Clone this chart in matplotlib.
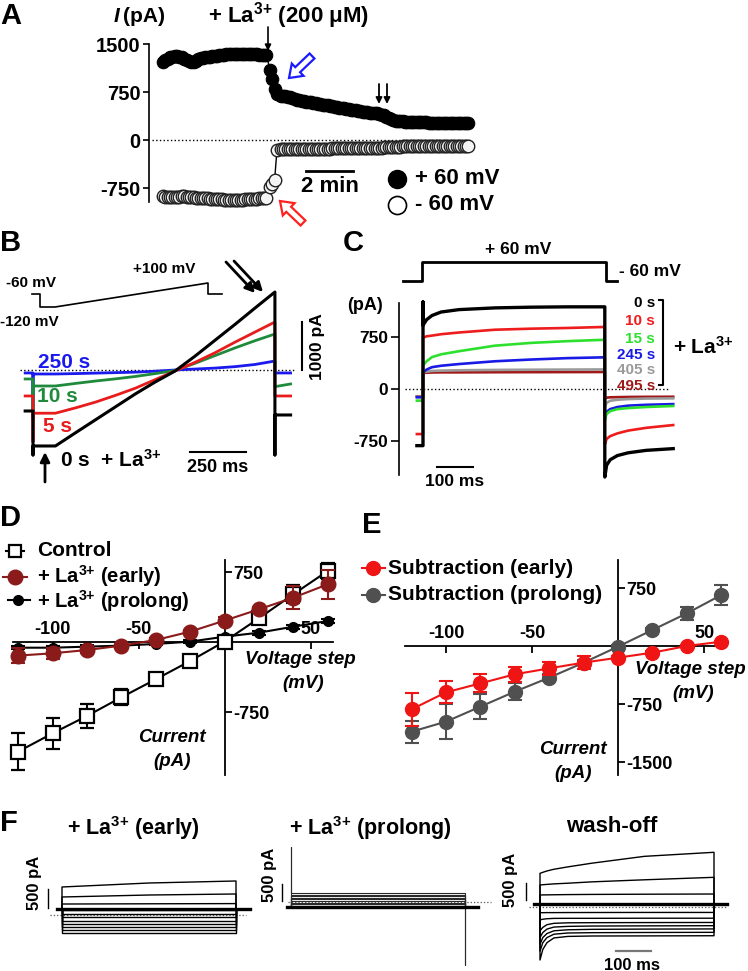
import matplotlib
matplotlib.use('Agg')
import matplotlib.pyplot as plt
from matplotlib import font_manager
from matplotlib.patches import FancyArrow

names = {f.name for f in font_manager.fontManager.ttflist}
BASE = 'Liberation Sans' if 'Liberation Sans' in names else 'DejaVu Sans'
plt.rcParams.update({
    'font.family': [BASE, 'DejaVu Sans'],
    'font.weight': 'bold',
    'axes.unicode_minus': False,
    'mathtext.fontset': 'custom',
    'mathtext.rm': BASE + ':bold',
    'mathtext.it': BASE + ':italic:bold',
    'mathtext.bf': BASE + ':bold',
    'mathtext.default': 'rm',
})
LA = r'La$^{3{+}}$'

# ---------------- DATA ----------------
# Panel A: time course (min) of current at +60 / -60 mV
a_time = [0.0, 0.1, 0.2, 0.3, 0.4, 0.5, 0.6, 0.7, 0.8, 0.9,
          1.0, 1.1, 1.2, 1.3, 1.4, 1.5, 1.6, 1.7, 1.8, 1.9,
          2.0, 2.1, 2.2, 2.3, 2.4, 2.5, 2.6, 2.7, 2.8, 2.9,
          3.0, 3.1, 3.2, 3.3, 3.4, 3.5, 3.6, 3.7, 3.8, 3.9,
          4.0, 4.1, 4.2, 4.3, 4.4, 4.55, 4.65, 4.75, 4.85,
          5.0, 5.1, 5.2, 5.3, 5.4, 5.5, 5.6, 5.7, 5.8, 5.9,
          6.0, 6.1, 6.2, 6.3, 6.4, 6.5, 6.6, 6.7, 6.8, 6.9,
          7.0, 7.1, 7.2, 7.3, 7.4, 7.5, 7.6, 7.7, 7.8, 7.9,
          8.0, 8.1, 8.2, 8.3, 8.4, 8.5, 8.6, 8.7, 8.8, 8.9,
          9.0, 9.1, 9.2, 9.3, 9.4, 9.5, 9.6, 9.7, 9.8, 9.9,
          10.0, 10.1, 10.2, 10.3, 10.4, 10.5, 10.6, 10.7, 10.8, 10.9,
          11.0, 11.1, 11.2, 11.3, 11.4, 11.5, 11.6, 11.7, 11.8, 11.9,
          12.0, 12.1, 12.2, 12.3, 12.4, 12.5, 12.6, 12.7, 12.8, 12.9, 13.0]
a_pos60 = [1220, 1250, 1270, 1290, 1300, 1305, 1305, 1300, 1290, 1270,
           1250, 1230, 1215, 1225, 1240, 1260, 1275, 1285, 1290, 1295,
           1300, 1308, 1315, 1320, 1325, 1330, 1335, 1338, 1340, 1343,
           1345, 1345, 1345, 1344, 1342, 1341, 1340, 1339, 1338, 1337,
           1336, 1335, 1334, 1332, 1330, 1100, 960, 800, 720,
           695, 688, 680, 672, 665, 652, 640, 629, 618, 611,
           605, 598, 592, 586, 580, 573, 567, 560, 553, 547,
           540, 532, 525, 518, 512, 506, 500, 494, 488, 481,
           475, 468, 462, 456, 450, 443, 437, 432, 428, 424,
           420, 415, 410, 398, 385, 365, 345, 327, 310, 303,
           298, 295, 292, 289, 287, 285, 283, 281, 279, 277,
           276, 275, 274, 273, 272, 271, 271, 270, 270, 269,
           269, 268, 268, 267, 267, 266, 266, 265, 265, 264, 264]
a_neg60 = [-880, -883, -885, -888, -890, -888, -885, -883, -880, -882,
           -885, -890, -895, -898, -900, -903, -905, -908, -910, -913,
           -915, -918, -920, -923, -925, -928, -930, -933, -935, -935,
           -935, -933, -930, -930, -930, -928, -925, -923, -920, -918,
           -915, -913, -910, -905, -900, -740, -690, -625, -150,
           -145, -144, -143, -142, -141, -141, -140, -140, -139, -139,
           -138, -138, -137, -137, -136, -136, -135, -135, -134, -134,
           -133, -133, -132, -132, -131, -131, -130, -130, -129, -129,
           -128, -128, -127, -127, -126, -126, -125, -125, -124, -124,
           -123, -122, -120, -118, -115, -113, -110, -108, -106, -104,
           -103, -102, -101, -100, -99, -99, -98, -98, -97, -97,
           -96, -96, -95, -95, -94, -94, -93, -93, -92, -92,
           -91, -91, -90, -90, -90, -89, -89, -89, -89, -88, -88]
a_yticks = [-750, 0, 750, 1500]

# Panel B: ramp currents (pA) at ramp voltages (mV)
b_volt = [-120, -100, -80, -60, -40, -20, 0, 20, 40, 60, 80, 100]
b_labels = ['0 s', '5 s', '10 s', '250 s']
b_colors = ['black', '#e81c1c', '#1f8a3c', '#1a1aee']
b_0s = [-1583, -1310, -1040, -770, -500, -250, -20, 290, 620, 950, 1290, 1625]
b_5s = [-900, -790, -670, -530, -380, -200, -20, 160, 360, 580, 790, 1000]
b_10s = [-333, -280, -230, -185, -135, -75, -10, 140, 300, 460, 610, 750]
b_250s = [-83, -75, -65, -55, -45, -25, 0, 20, 40, 70, 115, 187]
b_hold = [-854, -541, -187, -62]
b_spike_on = [-1770, -1493, -1000, -1020]
b_spike_off = [-1770, -541, -347, -62]
b_tail_start = [-937, -541, -347, -62]
b_tail_end = [-937, -541, -291, -62]

# Panel C: step currents (pA)
c_step_t = [0, 10, 25, 50, 100, 200, 300, 400, 505]
c_tail_t = [505, 510, 520, 540, 570, 620, 695]
c_labels = ['0 s', '10 s', '15 s', '245 s', '405 s', '495 s']
c_colors = ['black', '#ee1c1c', '#2ee02e', '#1a1ae6', '#9a9a9a', '#a01818']
c_pre = [-817, -650, -168, -120, -110, -105]
c_step = [[920, 1000, 1060, 1110, 1145, 1170, 1180, 1185, 1185],
          [740, 760, 770, 790, 815, 855, 870, 880, 895],
          [340, 400, 460, 500, 545, 625, 665, 690, 710],
          [240, 280, 315, 335, 360, 400, 425, 445, 457],
          [240, 250, 260, 265, 270, 275, 278, 280, 282],
          [230, 235, 238, 240, 240, 242, 243, 244, 245]]
c_tail = [[-1270, -1100, -1020, -960, -920, -885, -860],
          [-800, -720, -680, -640, -600, -560, -520],
          [-450, -360, -320, -290, -275, -260, -245],
          [-380, -330, -290, -260, -240, -228, -218],
          [-250, -200, -170, -155, -145, -138, -135],
          [-140, -125, -120, -118, -115, -113, -112]]
c_black_peak = 1255
c_yticks = [-750, 0, 750]

# Panel D: I-V curves
d_volt = [-120, -100, -80, -60, -40, -20, 0, 20, 40, 60]
d_control = [-1175, -979, -793, -593, -400, -204, 5, 254, 511, 761]
d_control_err = [196, 166, 130, 86, 30, 25, 20, 40, 98, 87]
d_early = [-146, -121, -86, -39, 21, 111, 229, 350, 475, 618]
d_early_err = [82, 60, 30, 20, 20, 20, 40, 20, 125, 157]
d_prolong = [-61, -61, -50, -39, -21, 4, 57, 100, 164, 225]
d_prolong_err = [15, 15, 15, 15, 15, 15, 15, 20, 20, 25]
d_xticks = [-100, -50, 50]
d_yticks = [-750, 750]

# Panel E: subtraction currents
e_volt = [-120, -100, -80, -60, -40, -20, 0, 20, 40, 60]
e_early = [-819, -599, -483, -366, -289, -215, -151, -86, 0, 56]
e_early_err = [211, 142, 118, 99, 86, 80, 20, 20, 15, 15]
e_prolong = [-1108, -978, -784, -590, -409, -216, -8, 207, 422, 659]
e_prolong_err = [140, 226, 161, 108, 50, 30, 20, 30, 80, 129]
e_xticks = [-100, -50, 50]
e_yticks = [-1500, -750, 750]

# Panel F: families of step currents (pA)
f_early_t = [0, 250, 500]
f_early = [[737, 842, 895], [474, 526, 553], [289, 295, 300], [132, 132, 132],
           [26, 26, 26], [-53, -53, -53], [-158, -158, -158], [-237, -237, -237],
           [-316, -316, -316], [-395, -395, -395], [-474, -474, -474]]
f_early_hold = 158
f_prol_t = [0, 500]
f_prol_levels = [265, 210, 165, 120, 75, 30, -15, -60, -105, -147, -176]
f_prol_hold = -147
f_prol_spike = [1618, -1853]
f_wash_t = [0, 8, 20, 40, 80, 150, 300, 500]
f_wash = [[990, 1020, 1060, 1110, 1180, 1290, 1490, 1609],
          [647, 655, 665, 680, 700, 740, 800, 873],
          [353, 355, 357, 360, 365, 370, 376, 382],
          [-167, -167, -165, -165, -163, -162, -160, -160],
          [-380, -360, -345, -335, -333, -333, -330, -330],
          [-700, -600, -520, -480, -465, -461, -458, -455],
          [-900, -750, -650, -590, -570, -560, -555, -550],
          [-1100, -900, -780, -700, -670, -657, -650, -645],
          [-1300, -1050, -900, -800, -765, -755, -750, -745],
          [-1559, -1250, -1050, -910, -865, -853, -850, -845]]
f_wash_hold = 78

# ---------------- FIGURE ----------------
W, H = 748, 971
fig = plt.figure(figsize=(W / 100, H / 100), dpi=100)


def map_axes(box, ox, oy, sx, sy):
    x0, x1, y0, y1 = box
    ax = fig.add_axes([x0 / W, 1 - y1 / H, (x1 - x0) / W, (y1 - y0) / H])
    ax.set_xlim((x0 - ox) / sx, (x1 - ox) / sx)
    ax.set_ylim((oy - y1) / sy, (oy - y0) / sy)
    ax.patch.set_visible(False)
    return ax


ov = fig.add_axes([0, 0, 1, 1], zorder=10)
ov.set_xlim(0, W)
ov.set_ylim(H, 0)
ov.axis('off')
ov.patch.set_visible(False)


def T(x, y, s, size=14, ha='left', va='center', **kw):
    ov.text(x, y, s, fontsize=size, ha=ha, va=va, fontweight='bold', **kw)


def arrow(x0, y0, x1, y1, lw=1.2, ms=10):
    ov.annotate('', xy=(x1, y1), xytext=(x0, y0),
                arrowprops=dict(arrowstyle='-|>', color='k', lw=lw,
                                mutation_scale=ms, shrinkA=0, shrinkB=0))


# ---- Panel A ----
axA = map_axes((135, 485, 38, 212), 163, 140, 23.5, 48 / 750)
for s in ['top', 'right', 'bottom']:
    axA.spines[s].set_visible(False)
axA.spines['left'].set_position(('data', (149 - 163) / 23.5))
axA.spines['left'].set_bounds(-970, 1500)
axA.spines['left'].set_linewidth(1.2)
axA.set_xticks([])
axA.set_yticks(a_yticks)
axA.tick_params(axis='y', length=4, width=1.2, labelsize=14.5, pad=2)
axA.plot([-0.47, 13.06], [0, 0], ':', color='k', lw=1)
axA.plot(a_time, a_pos60, '-', color='k', lw=1)
axA.plot(a_time, a_pos60, 'o', ls='none', ms=9, mfc='k', mec='k', mew=0.8)
axA.plot(a_time, a_neg60, '-', color='k', lw=1)
axA.plot(a_time, a_neg60, 'o', ls='none', ms=9, mfc='#f4f4f4', mec='#222222', mew=1.0)
axA.plot([6.1, 8.1], [-484, -484], 'k-', lw=2)

T(0, 16, 'A', size=21)
T(114, 16, 'I', size=15, style='italic')
T(123, 16, '(pA)', size=15)
T(289, 16, '+ ' + LA + ' (200 μM)', size=16, ha='center')
arrow(268, 27, 268, 51, lw=1.2, ms=9)
arrow(379, 84, 379, 104, lw=1.3, ms=9)
arrow(387, 84, 387, 104, lw=1.3, ms=9)
ov.add_patch(FancyArrow(312, 56, -23, 22, width=7, head_width=17, head_length=12,
                        length_includes_head=True, fc='white', ec='#1a1aff', lw=1.6))
ov.add_patch(FancyArrow(303, 223, -23, -22, width=7, head_width=17, head_length=12,
                        length_includes_head=True, fc='white', ec='#ff2020', lw=1.6))
T(330, 186, '2 min', size=16, ha='center')
ov.plot([397], [179], 'o', ms=13, mfc='k', mec='k')
ov.plot([397], [205], 'o', ms=13, mfc='white', mec='k', mew=1.2)
T(415, 179, '+ 60 mV', size=16)
T(415, 205, '- 60 mV', size=16)

# ---- Panel B ----
axB = map_axes((0, 340, 250, 495), 33, 370, 0.224, 0.048)
axB.axis('off')
axB.plot([-58, 1170], [0, 0], ':', color='k', lw=1)
b_traces = [b_0s, b_5s, b_10s, b_250s]
t_ramp = [100 + (v + 120) * 980 / 220 for v in b_volt]
for i in [3, 2, 1, 0]:
    tr = b_traces[i]
    xs = [-35, 0, 0, 0] + t_ramp + [1080, 1080, 1150]
    ys = [b_hold[i], b_hold[i], b_spike_on[i], tr[0]] + tr + \
         [b_spike_off[i], b_tail_start[i], b_tail_end[i]]
    axB.plot(xs, ys, '-', color=b_colors[i], lw=2 if i else 2.2, zorder=3 + (3 - i))
axB.plot([1201, 1201], [0, 1000], 'k-', lw=1.5)
axB.plot([701, 951], [-1708, -1708], 'k-', lw=1.5)

T(0, 243, 'B', size=21)
ov.plot([32, 40, 40, 55, 208, 208, 222], [294, 294, 307, 307, 283, 294, 294], 'k-', lw=1.2)
T(6, 283, '-60 mV', size=11)
T(133, 269, '+100 mV', size=11)
T(0, 322, '-120 mV', size=11)
T(318, 347, '1000 pA', size=12.5, ha='center', rotation=90)
T(218, 468, '250 ms', size=13, ha='center')
T(38, 362, b_labels[3], size=15, color=b_colors[3])
T(37, 397, b_labels[2], size=15, color=b_colors[2])
T(43, 426, b_labels[1], size=15, color=b_colors[1])
T(60, 460, b_labels[0] + '  + ' + LA, size=15)
arrow(45, 482, 45, 452, lw=2, ms=14)
arrow(226, 262, 255, 293, lw=2, ms=14)
arrow(234, 261, 263, 292, lw=2, ms=14)

# ---- Panel C ----
axC = map_axes((385, 700, 292, 490), 423, 389, 0.36, 52 / 750)
for s in ['top', 'right', 'bottom']:
    axC.spines[s].set_visible(False)
axC.spines['left'].set_position(('data', (399 - 423) / 0.36))
axC.spines['left'].set_bounds(-1240, 1240)
axC.spines['left'].set_linewidth(1.2)
axC.set_xticks([])
axC.set_yticks(c_yticks)
axC.tick_params(axis='y', length=6, width=1.2, labelsize=12.5, pad=2)
axC.plot([-50, 686], [0, 0], ':', color='k', lw=1)
for i in range(5, -1, -1):
    xs = [-17, 0] + ([0] if i == 0 else []) + c_step_t + c_tail_t
    ys = [c_pre[i], c_pre[i]] + ([c_black_peak] if i == 0 else []) + c_step[i] + c_tail[i]
    axC.plot(xs, ys, '-', color=c_colors[i], lw=2.4 if i == 0 else 1.9)
axC.plot([39, 139], [-1125, -1125], 'k-', lw=1.5)

T(343, 243, 'C', size=21)
ov.plot([403, 422, 422, 606, 606, 617], [281, 281, 262, 262, 281, 281], 'k-', lw=2)
T(518, 250, '+ 60 mV', size=12.5, ha='center')
T(619, 272, '- 60 mV', size=12.5)
T(365, 306, '(pA)', size=13, ha='center')
T(455, 482, '100 ms', size=12.5, ha='center')
for lab, col, yy in zip(c_labels, c_colors, [303, 321, 339, 355, 370, 386]):
    T(655, yy, lab, size=11, ha='right', color=col)
ov.plot([659, 663, 663, 659], [300, 300, 385, 385], 'k-', lw=1.5)
T(673, 347, '+ ' + LA, size=15)


# ---- Panels D / E: crossing axes ----
def iv_axes(ax, xb, yb, xt, yt):
    ax.spines['bottom'].set_visible(False)
    ax.spines['left'].set_visible(False)
    ax.spines['top'].set_position(('data', 0))
    ax.spines['right'].set_position(('data', 0))
    ax.spines['top'].set_bounds(*xb)
    ax.spines['right'].set_bounds(*yb)
    for s in ['top', 'right']:
        ax.spines[s].set_linewidth(1.3)
    ax.set_xticks(xt)
    ax.set_yticks(yt)
    ax.tick_params(axis='x', top=True, labeltop=True, bottom=False, labelbottom=False,
                   direction='in', length=5, width=1.3, labelsize=13, pad=3)
    ax.tick_params(axis='y', right=True, labelright=True, left=False, labelleft=False,
                   direction='out', length=5, width=1.3, labelsize=13, pad=1)


axD = map_axes((5, 350, 540, 795), 224.5, 642, 1.72, 70 / 750)
iv_axes(axD, (-123, 63), (-1425, 879), d_xticks, d_yticks)
ekw = dict(capsize=5, elinewidth=1.5, capthick=1.5, lw=1.5)
axD.errorbar(d_volt, d_prolong, yerr=d_prolong_err, fmt='-o', color='k', ms=7, zorder=3, **ekw)
axD.errorbar(d_volt, d_control, yerr=d_control_err, fmt='-s', color='k', mfc='white',
             mec='k', mew=1.6, ms=10, zorder=4, **ekw)
axD.errorbar(d_volt, d_early, yerr=d_early_err, fmt='-o', color='#8b1a1a', ms=10.5,
             zorder=5, **ekw)

T(0, 518, 'D', size=21)
ov.plot([6, 24], [551, 551], 'k-', lw=1.5)
ov.plot([15], [551], 's', ms=9, mfc='white', mec='k', mew=1.6)
ov.plot([3, 27], [577, 577], '-', color='#8b1a1a', lw=1.5)
ov.plot([15], [577], 'o', ms=10.5, color='#8b1a1a')
ov.plot([8, 30], [600, 600], 'k-', lw=1.5)
ov.plot([18], [600], 'o', ms=7, color='k')
T(37, 551, 'Control', size=15)
T(37, 576, '+ ' + LA + ' (early)', size=14.5)
T(37, 601, '+ ' + LA + ' (prolong)', size=14.5)
T(300, 660, 'Voltage step', size=13.5, ha='center', style='italic')
T(303, 683, '(mV)', size=13.5, ha='center', style='italic')
T(172, 738, 'Current', size=13.5, ha='center', style='italic')
T(172, 761, '(pA)', size=13.5, ha='center', style='italic')

axE = map_axes((378, 745, 540, 795), 618, 646, 1.72, 58 / 750)
iv_axes(axE, (-123.8, 62.2), (-1668, 1112), e_xticks, e_yticks)
axE.errorbar(e_volt, e_prolong, yerr=e_prolong_err, fmt='-o', color='#505050', ms=10,
             zorder=3, **ekw)
axE.errorbar(e_volt, e_early, yerr=e_early_err, fmt='-o', color='#f01515', ms=10,
             zorder=4, **ekw)

T(362, 525, 'E', size=21)
ov.plot([362, 385], [568, 568], '-', color='#f01515', lw=1.5)
ov.plot([373], [568], 'o', ms=10, color='#f01515')
ov.plot([362, 385], [595, 595], '-', color='#505050', lw=1.5)
ov.plot([373], [595], 'o', ms=10, color='#505050')
T(388, 568, 'Subtraction (early)', size=15)
T(388, 595, 'Subtraction (prolong)', size=15)
T(690, 669, 'Voltage step', size=13.5, ha='center', style='italic')
T(693, 693, '(mV)', size=13.5, ha='center', style='italic')
T(573, 750, 'Current', size=13.5, ha='center', style='italic')
T(573, 773, '(pA)', size=13.5, ha='center', style='italic')

# ---- Panel F ----
axF1 = map_axes((20, 260, 840, 970), 62, 915, 0.348, 0.038)
axF1.axis('off')
axF1.plot([-35, 530], [0, 0], ':', color='#555555', lw=0.9)
for tr in f_early:
    axF1.plot([-14, 0, 0] + f_early_t + [500, 535],
              [f_early_hold, f_early_hold, tr[0]] + tr + [f_early_hold, f_early_hold],
              'k-', lw=1.0)
axF1.plot([-14, 540], [f_early_hold, f_early_hold], 'k-', lw=2.4)
axF1.plot([-40, -40], [184, 684], 'k-', lw=1)

axF2 = map_axes((260, 500, 840, 970), 291, 902, 0.348, 0.034)
axF2.axis('off')
axF2.plot([-10, 575], [0, 0], ':', color='#555555', lw=0.9)
for j, lv in enumerate(f_prol_levels):
    if j == 0:
        xs = [-12, 0, 0, 0, 500, 500, 500, 512]
        ys = [f_prol_hold, f_prol_hold, f_prol_spike[0], lv, lv,
              f_prol_spike[1], f_prol_hold, f_prol_hold]
    else:
        xs = [-12, 0, 0] + f_prol_t + [500, 512]
        ys = [f_prol_hold, f_prol_hold, lv, lv, lv, f_prol_hold, f_prol_hold]
    axF2.plot(xs, ys, '-', color='#2a2a2a', lw=0.8)
axF2.plot([-12, 537], [f_prol_hold, f_prol_hold], 'k-', lw=2.4)
axF2.plot([-26, -26], [29, 529], 'k-', lw=1)

axF3 = map_axes((500, 740, 840, 970), 540, 907, 0.348, 0.034)
axF3.axis('off')
axF3.plot([-32, 536], [0, 0], ':', color='#555555', lw=0.9)
for tr in f_wash:
    axF3.plot([-17, 0, 0] + f_wash_t + [500, 538],
              [f_wash_hold, f_wash_hold, tr[0]] + tr + [f_wash_hold, f_wash_hold],
              'k-', lw=1.0)
axF3.plot([-17, 538], [f_wash_hold, f_wash_hold], 'k-', lw=2.4)
axF3.plot([-40, -40], [206, 706], 'k-', lw=1)
axF3.plot([218, 318], [-1294, -1294], '-', color='#777777', lw=1.6)

T(0, 823, 'F', size=21)
T(133, 828, '+ ' + LA + ' (early)', size=15.5, ha='center')
T(370, 828, '+ ' + LA + ' (prolong)', size=15.5, ha='center')
T(612, 826, 'wash-off', size=16, ha='center')
T(35, 883, '500 pA', size=12, ha='center', rotation=90)
T(270, 875, '500 pA', size=12, ha='center', rotation=90)
T(511, 880, '500 pA', size=12, ha='center', rotation=90)
T(632, 965, '100 ms', size=12, ha='center')

fig.savefig('out.png', dpi=100)
